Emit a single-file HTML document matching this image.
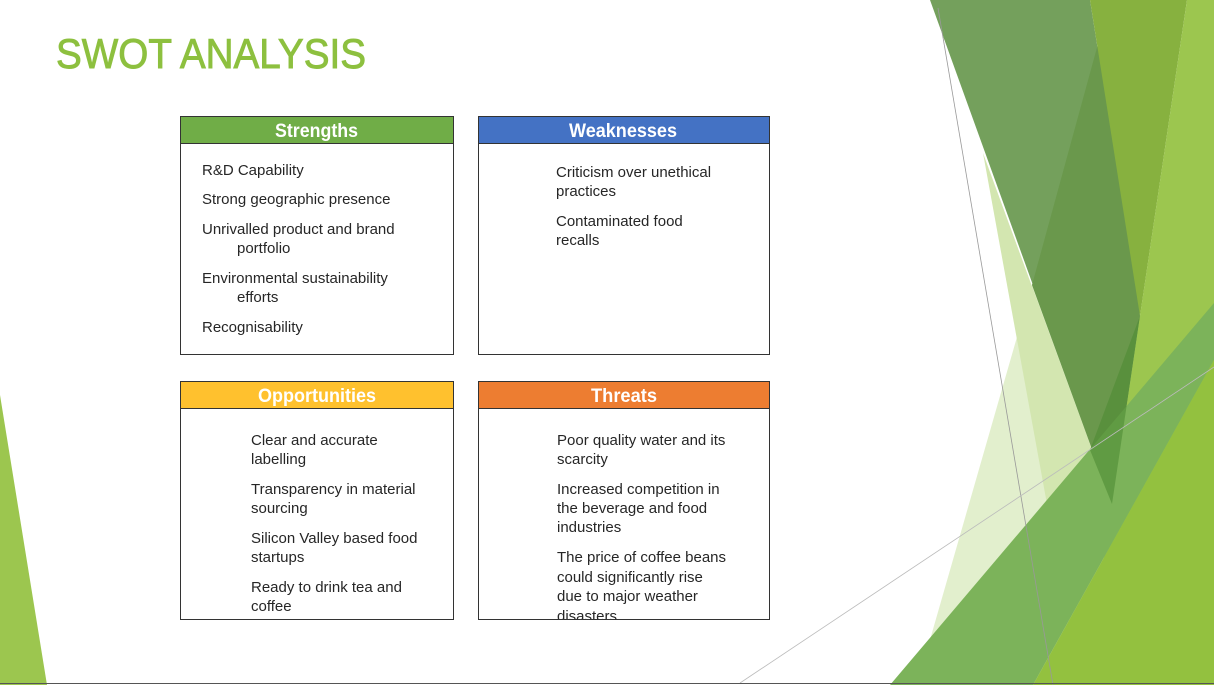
<!DOCTYPE html>
<html><head><meta charset="utf-8"><style>
html,body{margin:0;padding:0;background:#fff;}
svg{display:block;}
.t{font-family:"Liberation Sans",sans-serif;font-size:15px;fill:#262626;}
.h{font-family:"Liberation Sans",sans-serif;font-size:19px;font-weight:bold;fill:#fff;}
</style></head><body>
<svg width="1214" height="685" viewBox="0 0 1214 685" xmlns="http://www.w3.org/2000/svg">
<rect width="1214" height="685" fill="#fff"/>
<!-- right decoration -->
<polygon points="1046,236 1112,504 1085,685 917,685" fill="#e2efcd"/>
<polygon points="983,153 1112,504 1085,685 1067,614" fill="#d3e6b0"/>
<polygon points="930,0 1090,0 1140,316 1112,504" fill="#74a05c"/>
<polygon points="1110,0 1140,316 1112,504 1032,285" fill="#6a984c"/>
<polygon points="1090,0 1187,0 1140,316" fill="#87b13f"/>
<polygon points="1187,0 1214,0 1214,685 1085,685" fill="#9cc64f"/>
<polygon points="890,685 1214,303 1214,360 1033,685" fill="#7cb35a"/>
<polygon points="1090,450 1140,316 1112,504" fill="#4f8a34" opacity="0.6"/>
<polygon points="1033,685 1214,360 1214,685" fill="#93c13f"/>
<line x1="938" y1="8" x2="1053" y2="685" stroke="#999" stroke-width="0.8"/>
<line x1="740" y1="683" x2="1214" y2="367" stroke="#bbb" stroke-width="0.8"/>
<!-- left sliver -->
<polygon points="0,395 47,685 0,685" fill="#9cc64f"/>
<line x1="0" y1="683.5" x2="1214" y2="683.5" stroke="#555" stroke-width="1"/>
<!-- title -->
<text x="56" y="68" font-family="Liberation Sans,sans-serif" font-size="42" fill="#8dc03f" stroke="#8dc03f" stroke-width="0.9" textLength="310" lengthAdjust="spacingAndGlyphs">SWOT ANALYSIS</text>

<defs>
<clipPath id="c1"><rect x="478" y="381" width="291" height="239"/></clipPath>
</defs>
<!-- Strengths -->
<rect x="180.5" y="143.5" width="273" height="211" fill="#fff" stroke="#333"/>
<rect x="180.5" y="116.5" width="273" height="27" fill="#70ad47" stroke="#333"/>
<text class="h" x="275" y="137" textLength="83" lengthAdjust="spacingAndGlyphs">Strengths</text>
<g class="t">
<text x="202" y="175">R&amp;D Capability</text>
<text x="202" y="204">Strong geographic presence</text>
<text x="202" y="234">Unrivalled product and brand</text>
<text x="237" y="253">portfolio</text>
<text x="202" y="283">Environmental sustainability</text>
<text x="237" y="302">efforts</text>
<text x="202" y="332">Recognisability</text>
</g>
<!-- Weaknesses -->
<rect x="478.5" y="143.5" width="291" height="211" fill="#fff" stroke="#333"/>
<rect x="478.5" y="116.5" width="291" height="27" fill="#4472c4" stroke="#333"/>
<text class="h" x="569" y="137" textLength="108" lengthAdjust="spacingAndGlyphs">Weaknesses</text>
<g class="t">
<text x="556" y="177">Criticism over unethical</text>
<text x="556" y="196">practices</text>
<text x="556" y="226">Contaminated food</text>
<text x="556" y="245">recalls</text>
</g>
<!-- Opportunities -->
<rect x="180.5" y="408.5" width="273" height="211" fill="#fff" stroke="#333"/>
<rect x="180.5" y="381.5" width="273" height="27" fill="#ffc12e" stroke="#333"/>
<text class="h" x="258" y="402" textLength="118" lengthAdjust="spacingAndGlyphs">Opportunities</text>
<g class="t">
<text x="251" y="445">Clear and accurate</text>
<text x="251" y="464">labelling</text>
<text x="251" y="494">Transparency in material</text>
<text x="251" y="513">sourcing</text>
<text x="251" y="543">Silicon Valley based food</text>
<text x="251" y="562">startups</text>
<text x="251" y="592">Ready to drink tea and</text>
<text x="251" y="611">coffee</text>
</g>
<!-- Threats -->
<rect x="478.5" y="408.5" width="291" height="211" fill="#fff" stroke="#333"/>
<rect x="478.5" y="381.5" width="291" height="27" fill="#ed7d31" stroke="#333"/>
<text class="h" x="591" y="402" textLength="66" lengthAdjust="spacingAndGlyphs">Threats</text>
<g class="t" clip-path="url(#c1)">
<text x="557" y="445">Poor quality water and its</text>
<text x="557" y="464">scarcity</text>
<text x="557" y="494">Increased competition in</text>
<text x="557" y="513">the beverage and food</text>
<text x="557" y="532">industries</text>
<text x="557" y="562">The price of coffee beans</text>
<text x="557" y="582">could significantly rise</text>
<text x="557" y="601">due to major weather</text>
<text x="557" y="621">disasters</text>
</g>
<line x1="478" y1="619.5" x2="770" y2="619.5" stroke="#333"/>
</svg>
</body></html>
